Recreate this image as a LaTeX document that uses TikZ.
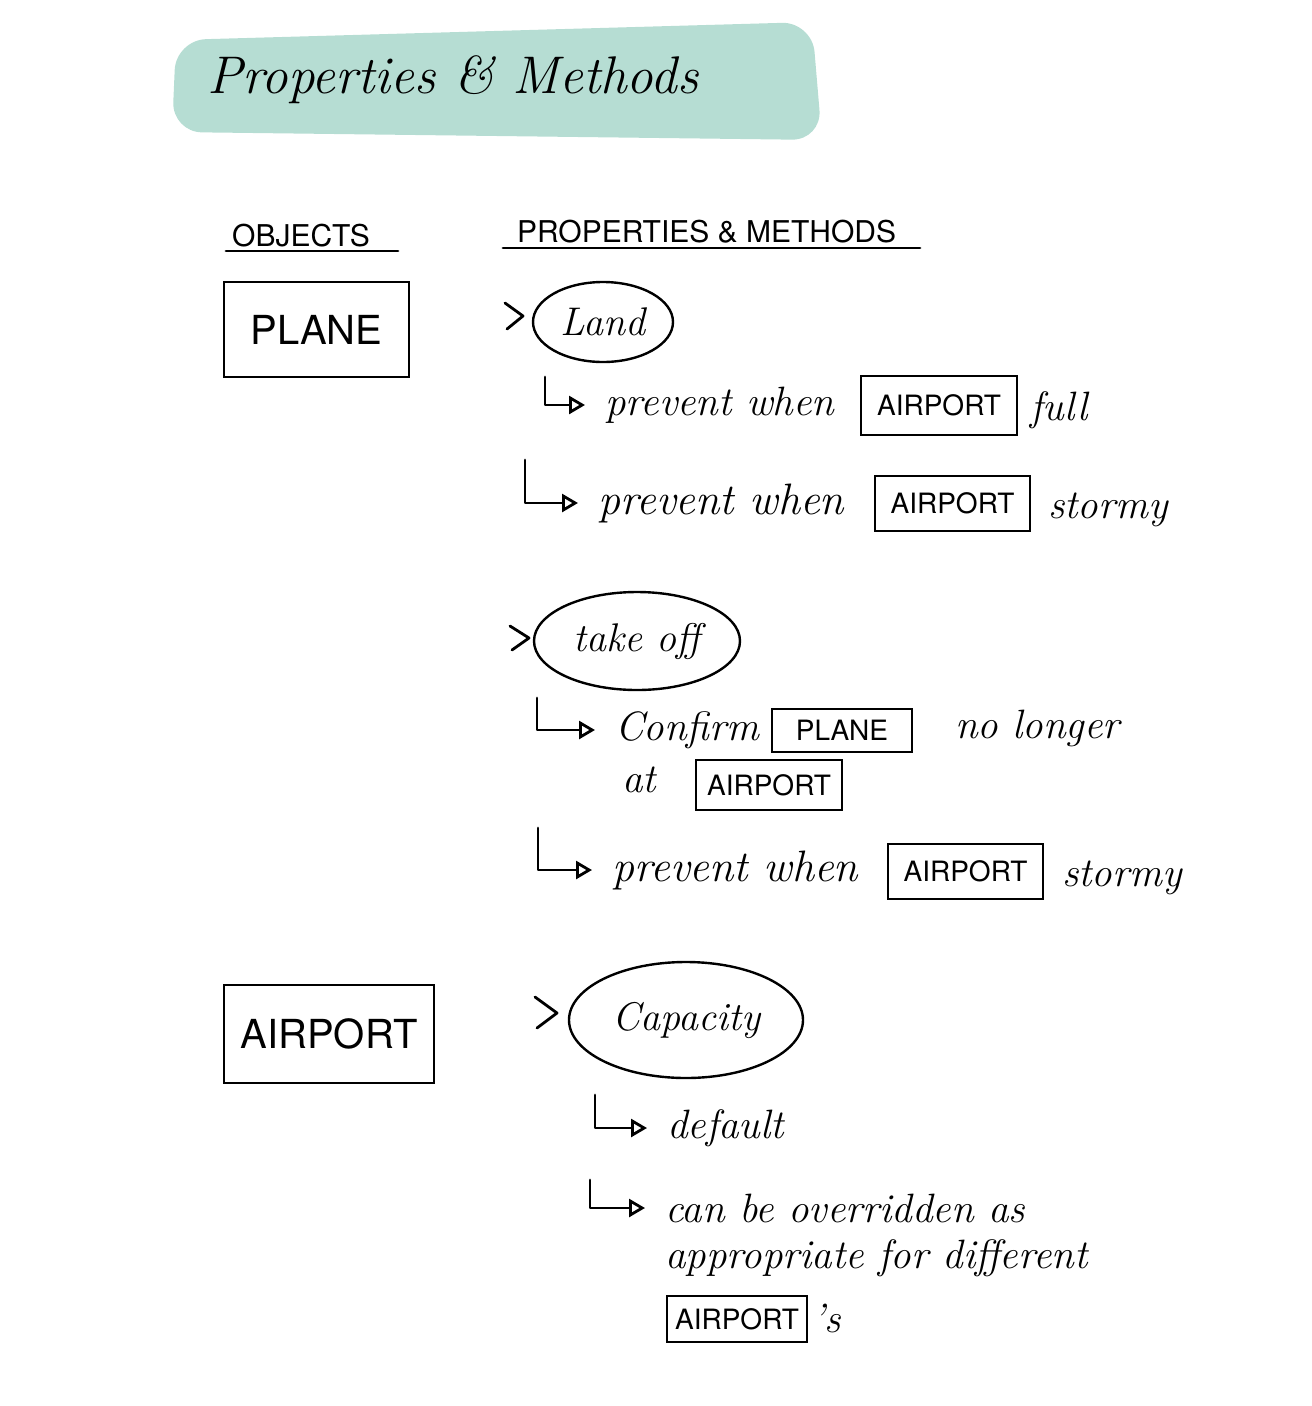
\documentclass[tikz,border=0pt]{standalone}
\usepackage{fontspec}
\setsansfont{TeX Gyre Heros}
\usetikzlibrary{arrows.meta,shapes.geometric}
\definecolor{brush}{HTML}{B6DDD3}
\begin{document}
\begin{tikzpicture}[x=1pt,y=-1pt,
  hwtext/.style={font=\fontsize{41}{44}\selectfont\itshape, inner sep=0pt, anchor=west},
  capstext/.style={font=\fontsize{30}{34}\selectfont\sffamily, inner sep=0pt},
  obox/.style={draw, line width=2.4pt, font=\fontsize{28}{30}\selectfont\sffamily, inner sep=0pt},
  bigbox/.style={obox, font=\fontsize{40}{44}\selectfont\sffamily},
  ell/.style={ellipse, draw, line width=2.4pt, inner sep=0pt, font=\fontsize{40}{44}\selectfont\itshape},
  ln/.style={line width=2.8pt, line cap=round, line join=round},
  hook/.style={ln, -{Triangle[open, length=16pt, width=18pt, line width=2.8pt]}, shorten >=20pt}
]
\useasboundingbox (0,0) rectangle (1312,1406);
% title brush
\fill[brush, rounded corners=30] (176,40) -- (812,22) -- (822,140) -- (172,132) -- cycle;
\node[anchor=west, inner sep=0pt, font=\fontsize{53}{58}\selectfont\itshape] (title) at (207,80) {Properties \& Methods};
% headers
\node[capstext, anchor=base west] (objh) at (232,246) {OBJECTS};
\draw[ln] (226,251) -- (398,251);
\node[capstext, anchor=base west] (proph) at (517,242) {PROPERTIES \& METHODS};
\draw[ln] (503,248) -- (920,248);
% objects
\node[bigbox, minimum width=185, minimum height=95] (plane) at (316.5,329.5) {PLANE};
\node[bigbox, minimum width=210, minimum height=98] (airport) at (329,1034) {AIRPORT};
% Land
\draw[ln] (505,303) -- (523,316) -- (507,329);
\node[ell, minimum width=140, minimum height=80] (land) at (603,322) {Land};
\coordinate (h1) at (545,377);
\node[hwtext] (t1) at (605,405) {prevent when};
\draw[hook] (h1) |- (t1.west);
\node[obox, minimum width=156, minimum height=59] (a1) at (939,405.5) {AIRPORT};
\node[hwtext] (f1) at (1030,410) {full};
\coordinate (h2) at (525,460);
\node[hwtext, font=\fontsize{44}{46}\selectfont\itshape] (t2) at (598,503) {prevent when};
\draw[hook] (h2) |- (t2.west);
\node[obox, minimum width=155, minimum height=55] (a2) at (952.5,503.5) {AIRPORT};
\node[hwtext] (s2) at (1048,510) {stormy};
% take off
\draw[ln] (510,626) -- (529,638) -- (512,650);
\node[ell, minimum width=206, minimum height=98] (takeoff) at (637,641) {take off};
\coordinate (h3) at (537,698);
\node[hwtext] (t3) at (615,730) {Confirm};
\draw[hook] (h3) |- (t3.west);
\node[obox, minimum width=140, minimum height=43] (p2) at (842,730.5) {PLANE};
\node[hwtext] (nl) at (955,728) {no longer};
\node[hwtext] (at) at (622,780) {at};
\node[obox, minimum width=146, minimum height=50] (a3) at (769,785) {AIRPORT};
\coordinate (h4) at (538,828);
\node[hwtext, font=\fontsize{44}{46}\selectfont\itshape] (t4) at (612,870) {prevent when};
\draw[hook] (h4) |- (t4.west);
\node[obox, minimum width=155, minimum height=55] (a4) at (965.5,871.5) {AIRPORT};
\node[hwtext] (s4) at (1062,878) {stormy};
% capacity
\draw[ln] (535,997) -- (557,1013) -- (537,1028);
\node[ell, minimum width=234, minimum height=116] (cap) at (686,1020) {Capacity};
\coordinate (h5) at (595,1095);
\node[hwtext] (t5) at (667,1128) {default};
\draw[hook] (h5) |- (t5.west);
\coordinate (h6) at (590,1180);
\node[hwtext] (t6) at (665,1208) {can be overridden as};
\draw[hook] (h6) |- (t6.west);
\node[hwtext] (t7) at (665,1258) {appropriate for different};
\node[obox, minimum width=140, minimum height=46] (a5) at (737,1319) {AIRPORT};
\node[hwtext] (ss) at (812,1318) {'s};
\end{tikzpicture}
\end{document}
